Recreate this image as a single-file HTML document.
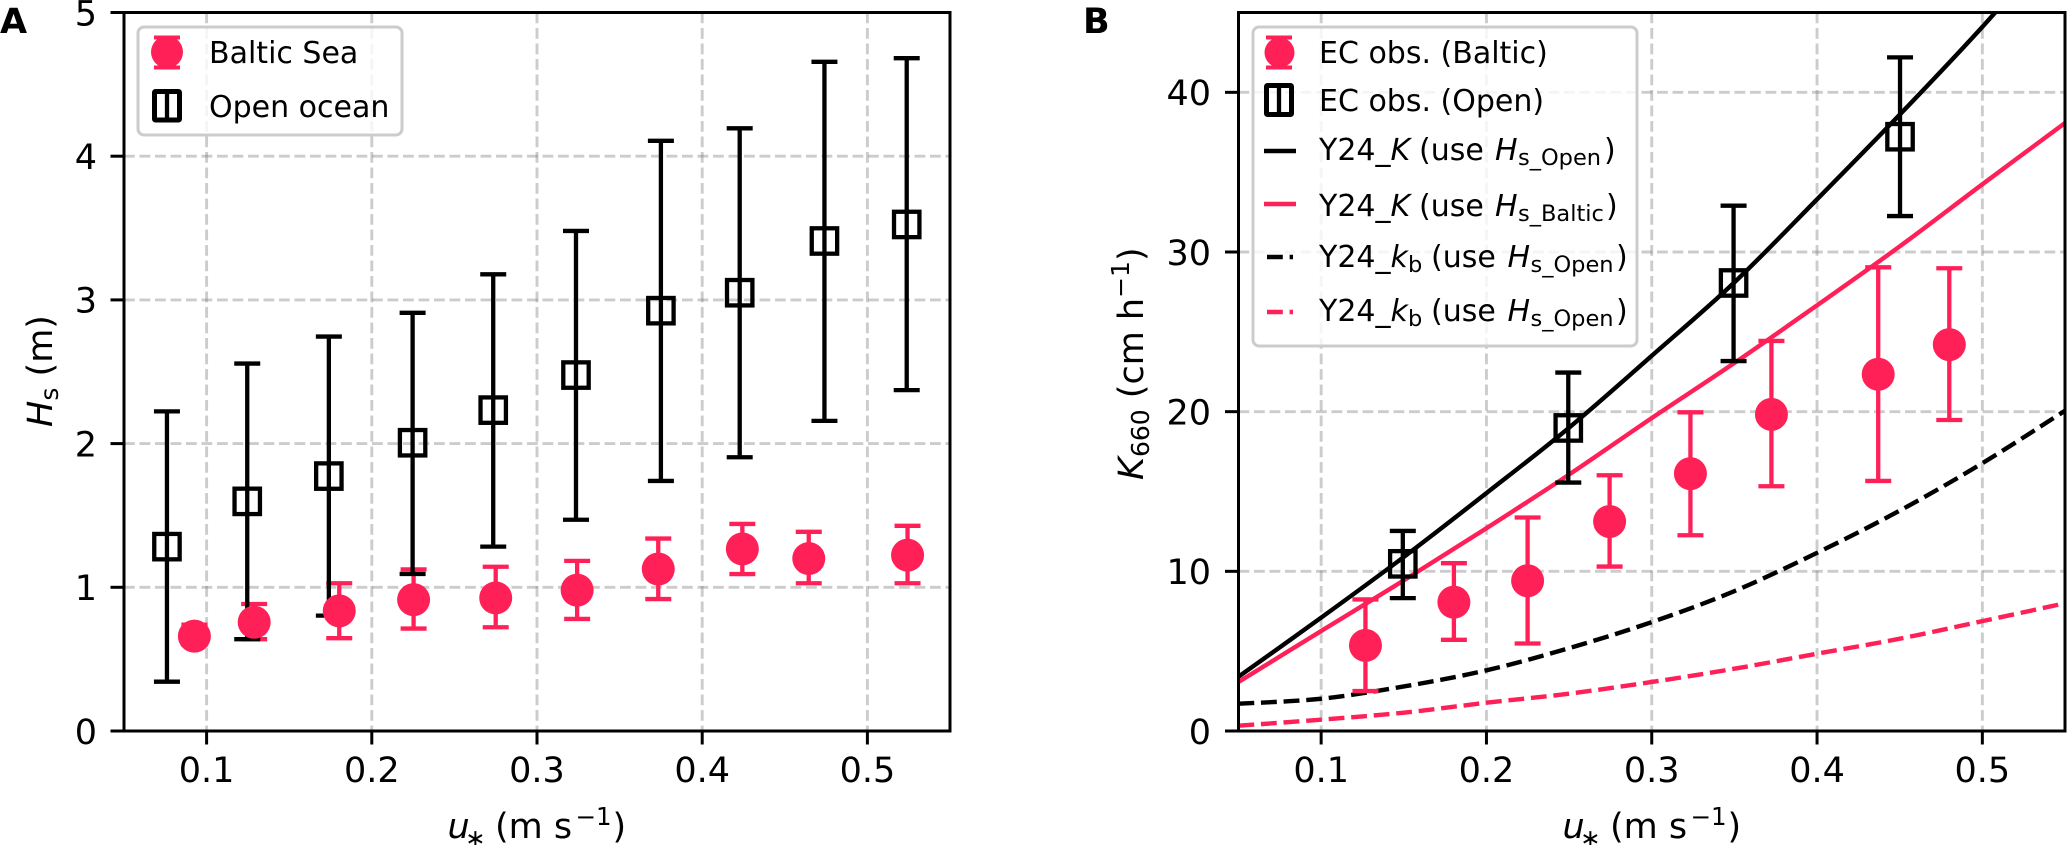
<!DOCTYPE html>
<html lang="en">
<head>
<meta charset="utf-8">
<title>Significant wave height and gas transfer velocity against friction velocity</title>
<style>
html,body{margin:0;padding:0;background:#fff;}
svg{display:block;font-family:"DejaVu Sans","Liberation Sans",sans-serif;fill:#000;}
.tick{font-size:35px;}
.leg{font-size:30px;}
.sm{font-size:22.5px;}
.it{font-style:italic;}
.lab{font-size:35px;}
.panel{font-size:35px;font-weight:bold;}
</style>
</head>
<body>
<svg id="fig" xmlns="http://www.w3.org/2000/svg" width="2067" height="845" viewBox="0 0 2067 845">
  <defs>
    <clipPath id="clipB"><rect x="1238.5" y="12.5" width="826.5" height="718.5"/></clipPath>
  </defs>
  <g id="panelA"></g>
  <g id="panelB"></g>

  <text class="panel" x="0" y="33">A</text>
  <text class="panel" x="1083" y="33">B</text>

  <text class="lab" y="838"><tspan class="it" x="447.5">u</tspan><tspan font-size="24.5" x="465" dy="8.5">∗</tspan><tspan x="495" dy="-8.5">(m s</tspan><tspan font-size="24.5" x="575.5" dy="-13">−1</tspan><tspan x="612.5" dy="13">)</tspan></text>
  <text class="lab" y="838"><tspan class="it" x="1562.5">u</tspan><tspan font-size="24.5" x="1580" dy="8.5">∗</tspan><tspan x="1610" dy="-8.5">(m s</tspan><tspan font-size="24.5" x="1690.5" dy="-13">−1</tspan><tspan x="1727.5" dy="13">)</tspan></text>
  <text class="lab" text-anchor="middle" transform="translate(52 371) rotate(-90)"><tspan class="it">H</tspan><tspan font-size="25" dy="6">s</tspan><tspan dy="-6"> (m)</tspan></text>
  <text class="lab" transform="translate(1143 480) rotate(-90)"><tspan class="it">K</tspan><tspan font-size="25" dy="6">660</tspan><tspan dy="-6"> (cm h</tspan><tspan font-size="25" dy="-14">−1</tspan><tspan dy="14">)</tspan></text>

  <g>
    <rect x="138" y="27" width="264" height="108" rx="6" fill="#fff" fill-opacity="0.8" stroke="#ccc" stroke-width="3"/>
    <g stroke="#ff2058" stroke-width="4">
      <line x1="154" x2="180" y1="37.5" y2="37.5"/><line x1="154" x2="180" y1="67.5" y2="67.5"/><line x1="167" x2="167" y1="37" y2="68"/>
      <circle cx="167" cy="52" r="16" fill="#ff2058" stroke="none"/>
    </g>
    <text class="leg" x="209" y="63">Baltic Sea</text>
    <g stroke="#000" stroke-width="5" fill="none">
      <rect x="154.5" y="91.5" width="25" height="28.5" rx="1"/><line x1="167" x2="167" y1="91" y2="120" stroke-width="4.3"/>
    </g>
    <text class="leg" x="209" y="117">Open ocean</text>
  </g>

  <g>
    <rect x="1253" y="27" width="384" height="319" rx="6" fill="#fff" fill-opacity="0.8" stroke="#ccc" stroke-width="3"/>
    <g stroke="#ff2058" stroke-width="4">
      <line x1="1266" x2="1292" y1="37.5" y2="37.5"/><line x1="1266" x2="1292" y1="67.5" y2="67.5"/><line x1="1279.5" x2="1279.5" y1="37" y2="68"/>
      <circle cx="1279.5" cy="52.5" r="15" fill="#ff2058" stroke="none"/>
    </g>
    <text class="leg" x="1319" y="63">EC obs. (Baltic)</text>
    <g stroke="#000" stroke-width="5" fill="none">
      <rect x="1266.5" y="85.5" width="25" height="29" rx="1"/><line x1="1279" x2="1279" y1="85" y2="115" stroke-width="4.3"/>
    </g>
    <text class="leg" x="1319" y="111">EC obs. (Open)</text>
    <line x1="1264" x2="1296" y1="151" y2="151" stroke="#000" stroke-width="4.4"/>
    <text class="leg" y="160"><tspan x="1319">Y24_</tspan><tspan class="it" x="1390.5">K</tspan><tspan x="1419">(use</tspan><tspan class="it" x="1495">H</tspan><tspan class="sm" x="1518" dy="5">s_Open</tspan><tspan x="1604" dy="-5">)</tspan></text>
    <line x1="1264" x2="1296" y1="204" y2="204" stroke="#ff2058" stroke-width="4.4"/>
    <text class="leg" y="216"><tspan x="1319">Y24_</tspan><tspan class="it" x="1390.5">K</tspan><tspan x="1419">(use</tspan><tspan class="it" x="1495">H</tspan><tspan class="sm" x="1518" dy="5">s_Baltic</tspan><tspan x="1606" dy="-5">)</tspan></text>
    <line x1="1267" x2="1293" y1="257" y2="257" stroke="#000" stroke-width="4.4" stroke-dasharray="15.8 6.8"/>
    <text class="leg" y="267"><tspan x="1319">Y24_</tspan><tspan class="it" x="1390.5">k</tspan><tspan class="sm" x="1408" dy="5">b</tspan><tspan x="1431" dy="-5">(use</tspan><tspan class="it" x="1507.5">H</tspan><tspan class="sm" x="1530.5" dy="5">s_Open</tspan><tspan x="1616" dy="-5">)</tspan></text>
    <line x1="1267" x2="1293" y1="312" y2="312" stroke="#ff2058" stroke-width="4.4" stroke-dasharray="15.8 6.8"/>
    <text class="leg" y="321"><tspan x="1319">Y24_</tspan><tspan class="it" x="1390.5">k</tspan><tspan class="sm" x="1408" dy="5">b</tspan><tspan x="1431" dy="-5">(use</tspan><tspan class="it" x="1507.5">H</tspan><tspan class="sm" x="1530.5" dy="5">s_Open</tspan><tspan x="1616" dy="-5">)</tspan></text>
  </g>
</svg>
<script>
// Shared axis ticks
const xTickLabels = ["0.1", "0.2", "0.3", "0.4", "0.5"];
const hsTickLabels = ["0", "1", "2", "3", "4", "5"];
const kTickLabels = ["0", "10", "20", "30", "40"];

// Panel A: significant wave height
const balticU = [0.0926, 0.1288, 0.1803, 0.2253, 0.275, 0.3243, 0.3734, 0.4243, 0.4645, 0.5243];
const balticHs = [0.66, 0.757, 0.836, 0.914, 0.926, 0.98, 1.127, 1.267, 1.2, 1.224];
const balticHsLow = [0.6, 0.639, 0.646, 0.713, 0.722, 0.78, 0.918, 1.092, 1.028, 1.028];
const balticHsHigh = [0.74, 0.884, 1.028, 1.125, 1.143, 1.184, 1.339, 1.441, 1.386, 1.428];
const openU = [0.076, 0.1246, 0.174, 0.2247, 0.2735, 0.3236, 0.375, 0.4227, 0.474, 0.5238];
const openHs = [1.283, 1.598, 1.774, 2.006, 2.233, 2.477, 2.925, 3.05, 3.41, 3.525];
const openHsLow = [0.343, 0.639, 0.803, 1.093, 1.283, 1.47, 1.74, 1.905, 2.158, 2.372];
const openHsHigh = [2.224, 2.557, 2.745, 2.91, 3.178, 3.48, 4.107, 4.194, 4.657, 4.682];

// Panel B: EC observations
const ecBalticU = [0.1268, 0.1803, 0.2249, 0.2745, 0.3234, 0.3724, 0.437, 0.48];
const ecBalticK = [5.36, 8.07, 9.41, 13.12, 16.12, 19.83, 22.34, 24.2];
const ecBalticLow = [2.5, 5.71, 5.48, 10.3, 12.26, 15.33, 15.66, 19.48];
const ecBalticHigh = [8.24, 10.51, 13.37, 16.02, 19.96, 24.43, 29.04, 28.98];
const ecOpenU = [0.1494, 0.2495, 0.3495, 0.4502];
const ecOpenK = [10.47, 18.98, 28.06, 37.22];
const ecOpenLow = [8.32, 15.56, 23.17, 32.25];
const ecOpenHigh = [12.53, 22.45, 32.9, 42.19];

// Panel B: Y24 model curves
const curveU = [0.05, 0.1, 0.15, 0.2, 0.25, 0.3, 0.35, 0.4, 0.45, 0.5, 0.55];
const kOpen = [3.4, 7.1, 10.9, 14.9, 19.0, 23.5, 28.1, 33.3, 38.6, 44.1, 50];
const kBaltic = [3.07, 6.26, 9.43, 12.7, 16.06, 19.6, 23.05, 26.66, 30.35, 34.24, 38.08];
const kbOpen = [1.71, 2.02, 2.79, 3.8, 5.19, 6.82, 8.76, 11.16, 13.8, 16.77, 20.06];
const kbBaltic = [0.33, 0.71, 1.15, 1.77, 2.34, 3.07, 3.9, 4.84, 5.78, 6.88, 8.0];

const NS = "http://www.w3.org/2000/svg";
const PINK = "#ff2058";
const XMIN = 0.05, XMAX = 0.55;

function mk(parent, tag, attrs) {
  const e = document.createElementNS(NS, tag);
  for (const k in attrs) e.setAttribute(k, attrs[k]);
  parent.appendChild(e);
  return e;
}
function xScale(left, right) {
  return function (v) { return left + (v - XMIN) / (XMAX - XMIN) * (right - left); };
}
function yScale(bottom, top, ymax) {
  return function (v) { return bottom - v / ymax * (bottom - top); };
}

function drawFrame(g, box, sx, sy, yLabels, anchorX) {
  xTickLabels.forEach(function (t) {
    const px = sx(parseFloat(t));
    const gl = mk(g, "line", {x1: px, x2: px, y1: box.top, y2: box.bottom, stroke: "gray", "stroke-opacity": 0.4, "stroke-width": 2.9, "stroke-dasharray": "10.8 4.7"});
    
    
    const tk = mk(g, "line", {x1: px, x2: px, y1: box.bottom, y2: box.bottom + 13.5, stroke: "#000", "stroke-width": 3});
    
    
    const lb = mk(g, "text", {x: px, y: 782, "text-anchor": "middle", class: "tick"});
    lb.textContent = t;
    
    
  });
  yLabels.forEach(function (t) {
    const py = sy(parseFloat(t));
    if (parseFloat(t) > 0 && py > box.top + 1) {
      const gl = mk(g, "line", {x1: box.left, x2: box.right, y1: py, y2: py, stroke: "gray", "stroke-opacity": 0.4, "stroke-width": 2.9, "stroke-dasharray": "10.8 4.7"});
      
      
    }
    const tk = mk(g, "line", {x1: box.left - 13.5, x2: box.left, y1: py, y2: py, stroke: "#000", "stroke-width": 3});
    
    
    const lb = mk(g, "text", {x: anchorX, y: py + 12.8, "text-anchor": "end", class: "tick"});
    lb.textContent = t;
    
    
  });
}

function drawSpines(g, box) {
  const r = mk(g, "rect", {x: box.left, y: box.top, width: box.right - box.left, height: box.bottom - box.top, fill: "none", stroke: "#000", "stroke-width": 3});
  
  
}

function drawBars(g, xs, lows, highs, color, sx, sy, name) {
  xs.forEach(function (x, i) {
    const px = sx(x), yl = sy(lows[i]), yh = sy(highs[i]);
    const b = mk(g, "path", {
      d: "M" + px + " " + yl + "V" + yh + "M" + (px - 13) + " " + yl + "H" + (px + 13) + "M" + (px - 13) + " " + yh + "H" + (px + 13),
      fill: "none", stroke: color, "stroke-width": 4.3
    });
    
    
  });
}

function drawCircles(g, xs, ys, sx, sy, name) {
  xs.forEach(function (x, i) {
    const c = mk(g, "circle", {cx: sx(x), cy: sy(ys[i]), r: 16.5, fill: PINK});
    
    
  });
}

function drawSquares(g, xs, ys, sx, sy, name) {
  xs.forEach(function (x, i) {
    const s = mk(g, "rect", {x: sx(x) - 12.7, y: sy(ys[i]) - 12.7, width: 25.4, height: 25.4, fill: "none", stroke: "#000", "stroke-width": 4.3});
    
    
  });
}

// Smooth path through the curve values (Catmull-Rom to cubic Bezier).
function drawCurve(g, xs, ys, color, dashed, sx, sy, name) {
  const pts = xs.map(function (x, i) { return [sx(x), sy(ys[i])]; });
  let d = "M" + pts[0][0].toFixed(2) + " " + pts[0][1].toFixed(2);
  for (let i = 0; i < pts.length - 1; i++) {
    const p0 = pts[Math.max(i - 1, 0)], p1 = pts[i], p2 = pts[i + 1], p3 = pts[Math.min(i + 2, pts.length - 1)];
    const c1x = p1[0] + (p2[0] - p0[0]) / 6, c1y = p1[1] + (p2[1] - p0[1]) / 6;
    const c2x = p2[0] - (p3[0] - p1[0]) / 6, c2y = p2[1] - (p3[1] - p1[1]) / 6;
    d += "C" + c1x.toFixed(2) + " " + c1y.toFixed(2) + " " + c2x.toFixed(2) + " " + c2y.toFixed(2) + " " + p2[0].toFixed(2) + " " + p2[1].toFixed(2);
  }
  const attrs = {d: d, fill: "none", stroke: color, "stroke-width": 4.4, "clip-path": "url(#clipB)"};
  if (dashed) attrs["stroke-dasharray"] = "15.8 6.8";
  const p = mk(g, "path", attrs);
  
  
}

// Panel A
(function () {
  const g = document.getElementById("panelA");
  const box = {left: 124, right: 950, top: 12.5, bottom: 731};
  const sx = xScale(box.left, box.right), sy = yScale(box.bottom, box.top, 5);
  drawFrame(g, box, sx, sy, hsTickLabels, 97);
  drawBars(g, balticU, balticHsLow, balticHsHigh, PINK, sx, sy, "baltic-error-bar");
  drawBars(g, openU, openHsLow, openHsHigh, "#000", sx, sy, "open-ocean-error-bar");
  drawSquares(g, openU, openHs, sx, sy, "open-ocean-point");
  drawCircles(g, balticU, balticHs, sx, sy, "baltic-point");
  drawSpines(g, box);
})();

// Panel B
(function () {
  const g = document.getElementById("panelB");
  const box = {left: 1238.5, right: 2065, top: 12.5, bottom: 731};
  const sx = xScale(box.left, box.right), sy = yScale(box.bottom, box.top, 45);
  drawFrame(g, box, sx, sy, kTickLabels, 1211);
  drawCurve(g, curveU, kOpen, "#000", false, sx, sy, "y24-k-open-curve");
  drawCurve(g, curveU, kBaltic, PINK, false, sx, sy, "y24-k-baltic-curve");
  drawCurve(g, curveU, kbOpen, "#000", true, sx, sy, "y24-kb-open-curve");
  drawCurve(g, curveU, kbBaltic, PINK, true, sx, sy, "y24-kb-baltic-curve");
  drawBars(g, ecBalticU, ecBalticLow, ecBalticHigh, PINK, sx, sy, "ec-baltic-error-bar");
  drawCircles(g, ecBalticU, ecBalticK, sx, sy, "ec-baltic-point");
  drawBars(g, ecOpenU, ecOpenLow, ecOpenHigh, "#000", sx, sy, "ec-open-error-bar");
  drawSquares(g, ecOpenU, ecOpenK, sx, sy, "ec-open-point");
  drawSpines(g, box);
})();
</script>
</body>
</html>
